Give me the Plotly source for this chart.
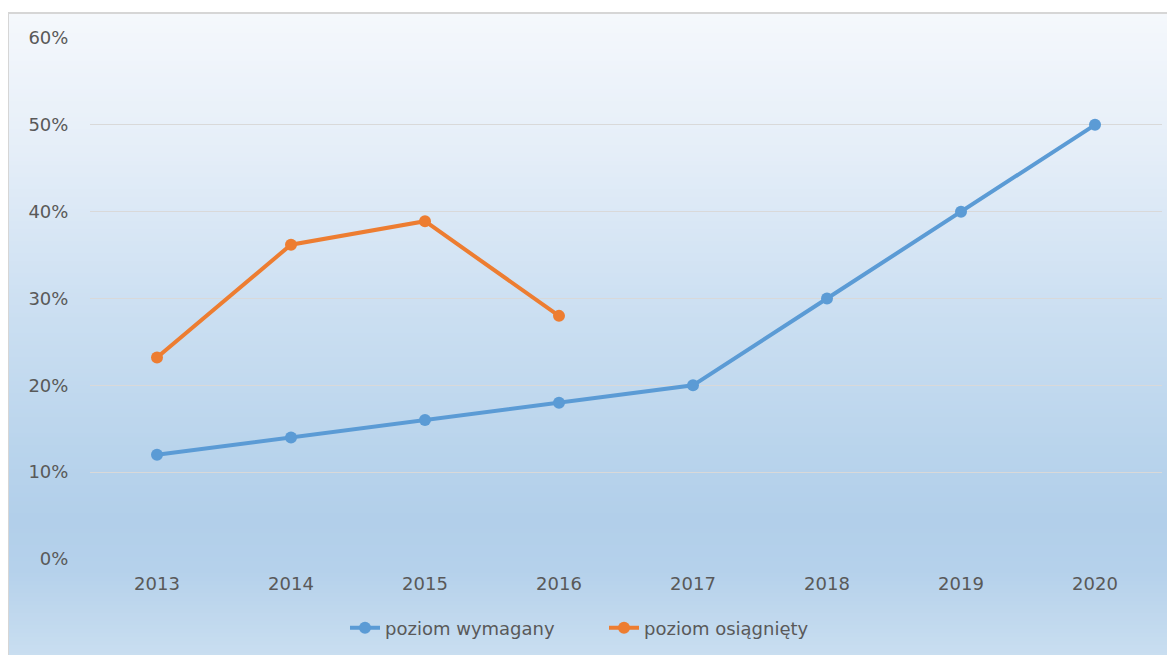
import plotly.graph_objects as go

# ---- data ----
years = ["2013", "2014", "2015", "2016", "2017", "2018", "2019", "2020"]
required = [0.12, 0.14, 0.16, 0.18, 0.20, 0.30, 0.40, 0.50]
achieved_years = ["2013", "2014", "2015", "2016"]
achieved = [0.232, 0.362, 0.389, 0.280]
series_names = ["poziom wymagany", "poziom osiągnięty"]
y_ticks = [0, 0.1, 0.2, 0.3, 0.4, 0.5, 0.6]

OFF = 8  # page body margin in the browser
W, H = 1175 - OFF, 655 - OFF
# plot area in reference screen pixels: x 90..1162, y 38..559
L = 90 - OFF
R = 1175 - 1162
T = 38 - OFF
B = 655 - 559
plot_w = W - L - R
plot_h = H - T - B

def px_x(p):  # reference screen x -> paper
    return (p - OFF - L) / plot_w

def px_y(p):  # reference screen y -> paper
    return (H - B - (p - OFF)) / plot_h

def cx(p):  # reference screen x -> container fraction
    return (p - OFF) / W

def cy(p):  # reference screen y -> container fraction
    return 1 - (p - OFF) / H

# gradient background (style)
stops = [(13, (245, 248, 252)), (150, (229, 238, 248)), (300, (205, 224, 242)),
         (450, (185, 212, 236)), (520, (178, 207, 234)), (570, (181, 209, 235)),
         (655, (201, 222, 240))]

def col_at(p):
    for (p0, c0), (p1, c1) in zip(stops[:-1], stops[1:]):
        if p0 <= p <= p1:
            t = (p - p0) / (p1 - p0)
            c = [round(a + (b - a) * t) for a, b in zip(c0, c1)]
            return "rgb(%d,%d,%d)" % tuple(c)
    return "rgb(%d,%d,%d)" % stops[-1][1]

shapes = []
step = 4
p = 13
while p < 660:
    shapes.append(dict(type="rect", xref="paper", yref="paper",
                       x0=px_x(8), x1=px_x(1180), y0=px_y(p + step + 1.5), y1=px_y(p),
                       fillcolor=col_at(p + step / 2), line=dict(width=0), layer="below"))
    p += step
# border lines
shapes.append(dict(type="line", xref="paper", yref="paper", x0=px_x(8), x1=px_x(1180),
                   y0=px_y(13), y1=px_y(13), line=dict(color="#d6d6d6", width=2), layer="below"))
shapes.append(dict(type="line", xref="paper", yref="paper", x0=px_x(8), x1=px_x(8),
                   y0=px_y(13), y1=px_y(660), line=dict(color="#d6d6d6", width=2), layer="below"))

fig = go.Figure()
fig.add_trace(go.Scatter(x=years, y=required, mode="lines+markers", name=series_names[0],
                         line=dict(color="#5b9bd5", width=4), marker=dict(size=12, color="#5b9bd5")))
fig.add_trace(go.Scatter(x=achieved_years, y=achieved, mode="lines+markers", name=series_names[1],
                         line=dict(color="#ed7d31", width=4), marker=dict(size=12, color="#ed7d31")))

font_family = "DejaVu Sans, sans-serif"
fig.update_layout(
    width=W, height=H,
    margin=dict(l=L, r=R, t=T, b=B, autoexpand=False),
    paper_bgcolor="white",
    plot_bgcolor="rgba(0,0,0,0)",
    shapes=shapes,
    showlegend=True,
    legend=dict(orientation="h", xref="container", yref="container",
                x=cx(604), xanchor="center", y=cy(628), yanchor="middle",
                entrywidth=214, entrywidthmode="pixels",
                font=dict(family=font_family, size=18, color="#595959"),
                bgcolor="rgba(0,0,0,0)"),
    font=dict(family=font_family, color="#595959"),
    xaxis=dict(type="category", categoryorder="array", categoryarray=years,
               range=[-0.5, len(years) - 0.5], showgrid=False, zeroline=False, showline=False,
               automargin=False,
               ticks="outside", ticklen=8, tickcolor="rgba(0,0,0,0)",
               tickfont=dict(family=font_family, size=18, color="#595959")),
    yaxis=dict(range=[0, 0.6], tickvals=y_ticks, tickformat=".0%",
               showgrid=True, gridcolor="#d9d9d9", gridwidth=1, zeroline=False, showline=False,
               automargin=False,
               ticks="outside", ticklen=17, tickcolor="rgba(0,0,0,0)",
               tickfont=dict(family=font_family, size=18, color="#595959")),
)

fig.write_html("out.html", config={"displayModeBar": False})
